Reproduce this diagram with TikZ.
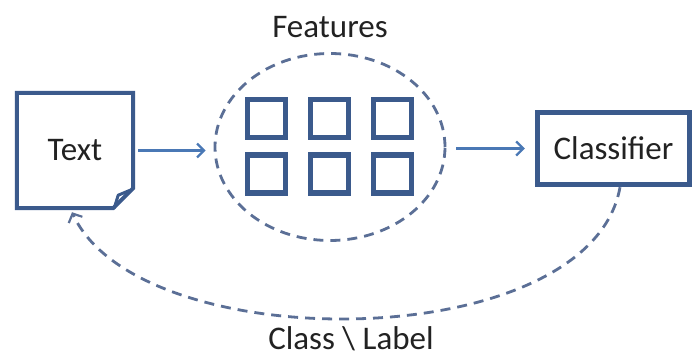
\documentclass[tikz,border=0pt]{standalone}
\usepackage{fontspec}
\setmainfont{Carlito}
\usetikzlibrary{arrows.meta,shapes.geometric}

\definecolor{boxblue}{HTML}{3B5A8C}
\definecolor{arrowblue}{HTML}{4A78B5}
\definecolor{dashblue}{HTML}{5B6F96}
\definecolor{ink}{HTML}{222222}

\tikzset{
  lbl/.style={font=\fontsize{33}{38}\selectfont, text=ink, inner sep=0pt},
  docframe/.style={draw=boxblue, line width=4pt, line join=miter},
  featbox/.style={draw=boxblue, line width=5.5pt, minimum size=38pt, inner sep=0pt},
  flow/.style={draw=arrowblue, line width=2.5pt, -{Straight Barb[length=7pt,width=14pt,line width=2.2pt]}},
  feedback/.style={draw=dashblue, line width=2.8pt, dash pattern=on 10pt off 7pt,
                   -{Straight Barb[length=7pt,width=15pt,line width=2.2pt]}},
}

\begin{document}
\begin{tikzpicture}[x=1pt,y=-1pt]
  \useasboundingbox (0,0) rectangle (694,358);

  % document with folded corner
  \node[lbl, minimum width=116pt, minimum height=115pt] (doc) at (75,150.5) {Text};
  \draw[docframe] (doc.north west) -- (doc.north east)
      -- ([yshift=20pt]doc.south east) -- ([xshift=-20pt]doc.south east)
      -- (doc.south west) -- cycle;
  \draw[draw=boxblue, line width=3pt, line join=round]
      ([xshift=-19pt]doc.south east) -- ([xshift=-15pt,yshift=13pt]doc.south east)
      -- ([xshift=-3pt,yshift=18pt]doc.south east);

  % feature set
  \node[ellipse, draw=dashblue, line width=2.8pt, dash pattern=on 10pt off 7pt,
        minimum width=230pt, minimum height=187pt, inner sep=0pt] (feat) at (330,147) {};
  \node[lbl] (featlbl) at (330,27) {Features};
  \node[featbox] (f11) at (266.5,118.5) {};
  \node[featbox] (f12) at (329.5,118.5) {};
  \node[featbox] (f13) at (392.5,118.5) {};
  \node[featbox] (f21) at (266.5,174) {};
  \node[featbox] (f22) at (329.5,174) {};
  \node[featbox] (f23) at (392.5,174) {};

  % classifier
  \node[lbl, draw=boxblue, line width=5.5pt, minimum width=152pt, minimum height=72pt]
      (cls) at (613.5,148.5) {Classifier};

  % forward flow
  \draw[flow, shorten <=5pt, shorten >=8pt] (doc.east) -- (doc.east -| feat.west);
  \draw[flow, shorten <=10pt, shorten >=10pt] (feat.east |- cls.west) -- (cls.west);

  % feedback loop
  \coordinate (fbstart) at ([xshift=6.5pt]cls.south);
  \coordinate (fbend) at ([xshift=-3pt,yshift=-4pt]doc.south);
  \draw[feedback] (fbstart) .. controls (590,356) and (140,360) .. (fbend);
  \node[lbl] (fblbl) at (351,338.5) {Class \textbackslash\ Label};
\end{tikzpicture}
\end{document}
